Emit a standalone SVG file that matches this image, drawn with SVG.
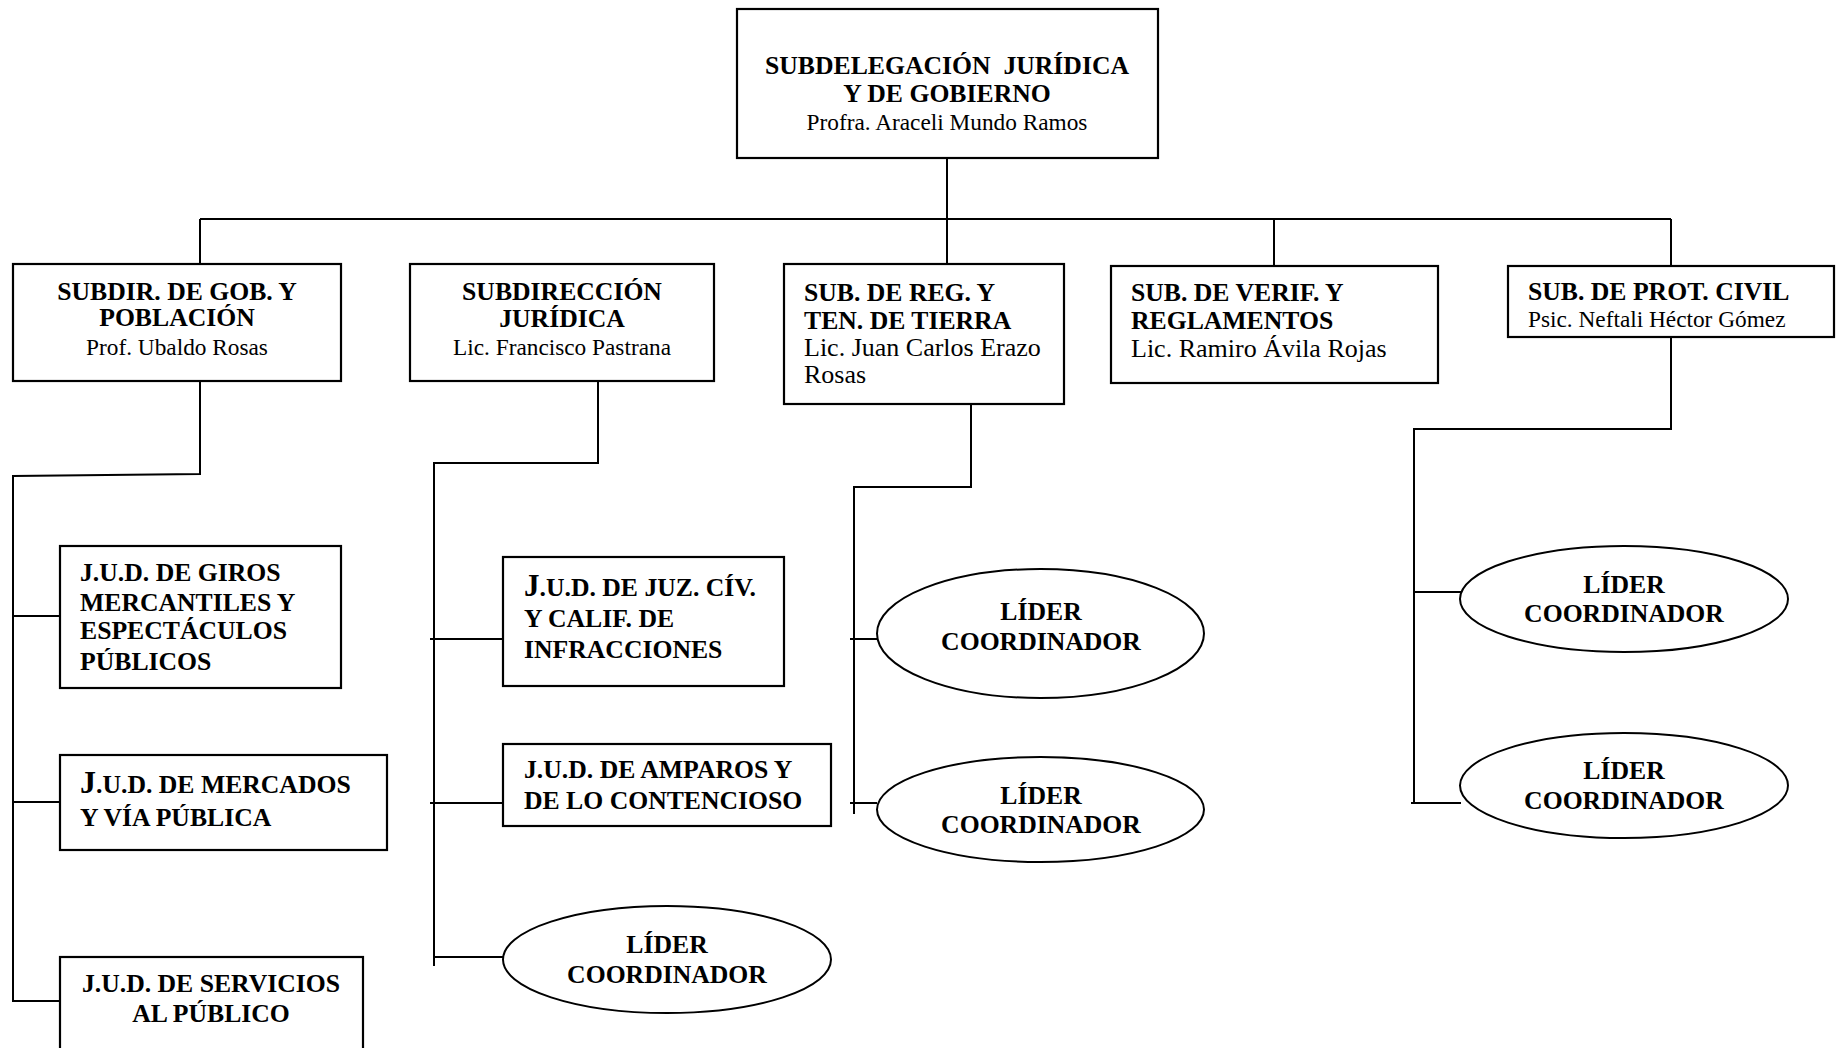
<svg xmlns="http://www.w3.org/2000/svg" width="1836" height="1048" viewBox="0 0 1836 1048">
<style>
.box{fill:#fff;stroke:#000;stroke-width:2.2}
.ell{fill:#fff;stroke:#000;stroke-width:2}
.ln{fill:none;stroke:#000;stroke-width:2}
text{font-family:"Liberation Serif","Times New Roman",serif;fill:#000}
.b{font-weight:bold;font-size:25.7px}
.r{font-size:23.3px}
.r2{font-size:26px}
.c{text-anchor:middle}
</style>
<rect width="1836" height="1048" fill="#fff"/>
<g id="connectors">
<path class="ln" d="M947 158 V264"/>
<path class="ln" d="M200 219 H1671"/>
<path class="ln" d="M200 219 V264"/>
<path class="ln" d="M1274 219 V266"/>
<path class="ln" d="M1671 219 V266"/>
<path class="ln" d="M200 381 V474 L13 476 V1001 H60"/>
<path class="ln" d="M13 616 H60"/>
<path class="ln" d="M13 802 H60"/>
<path class="ln" d="M598 381 V463 H434 V966"/>
<path class="ln" d="M430 639 H503"/>
<path class="ln" d="M430 803 H503"/>
<path class="ln" d="M434 957 H503"/>
<path class="ln" d="M971 404 V487 H854 V814"/>
<path class="ln" d="M850 639 H877"/>
<path class="ln" d="M850 803 H877"/>
<path class="ln" d="M1671 337 V429 H1414 V803"/>
<path class="ln" d="M1414 592 H1461"/>
<path class="ln" d="M1411 803 H1461"/>
</g>
<g id="n-subdelegacion">
<rect class="box" x="737" y="9" width="421" height="149"/>
<text class="b c" x="947" y="74">SUBDELEGACIÓN&#160; JURÍDICA</text>
<text class="b c" x="947" y="102">Y DE GOBIERNO</text>
<text class="r c" x="947" y="130">Profra. Araceli Mundo Ramos</text>
</g>
<g id="n-subdir-gob">
<rect class="box" x="13" y="264" width="328" height="117"/>
<text class="b c" x="177" y="300">SUBDIR. DE GOB. Y</text>
<text class="b c" x="177" y="326">POBLACIÓN</text>
<text class="r c" x="177" y="355">Prof. Ubaldo Rosas</text>
</g>
<g id="n-subdir-juridica">
<rect class="box" x="410" y="264" width="304" height="117"/>
<text class="b c" x="562" y="300">SUBDIRECCIÓN</text>
<text class="b c" x="562" y="327">JURÍDICA</text>
<text class="r c" x="562" y="355">Lic. Francisco Pastrana</text>
</g>
<g id="n-sub-reg">
<rect class="box" x="784" y="264" width="280" height="140"/>
<text class="b" x="804" y="301">SUB. DE REG. Y</text>
<text class="b" x="804" y="329">TEN. DE TIERRA</text>
<text class="r2" x="804" y="356">Lic. Juan Carlos Erazo</text>
<text class="r2" x="804" y="383">Rosas</text>
</g>
<g id="n-sub-verif">
<rect class="box" x="1111" y="266" width="327" height="117"/>
<text class="b" x="1131" y="301">SUB. DE VERIF. Y</text>
<text class="b" x="1131" y="329">REGLAMENTOS</text>
<text class="r2" x="1131" y="357">Lic. Ramiro Ávila Rojas</text>
</g>
<g id="n-sub-prot">
<rect class="box" x="1508" y="266" width="326" height="71"/>
<text class="b" x="1528" y="300">SUB. DE PROT. CIVIL</text>
<text class="r" x="1528" y="327">Psic. Neftali Héctor Gómez</text>
</g>
<g id="n-jud-giros">
<rect class="box" x="60" y="546" width="281" height="142"/>
<text class="b" x="80" y="581">J.U.D. DE GIROS</text>
<text class="b" x="80" y="611">MERCANTILES Y</text>
<text class="b" x="80" y="639">ESPECTÁCULOS</text>
<text class="b" x="80" y="670">PÚBLICOS</text>
</g>
<g id="n-jud-mercados">
<rect class="box" x="60" y="755" width="327" height="95"/>
<text class="b" x="80" y="793"><tspan font-size="32px">J</tspan>.U.D. DE MERCADOS</text>
<text class="b" x="80" y="826">Y VÍA PÚBLICA</text>
</g>
<g id="n-jud-servicios">
<rect class="box" x="60" y="957" width="303" height="100"/>
<text class="b c" x="211" y="992">J.U.D. DE SERVICIOS</text>
<text class="b c" x="211" y="1022">AL PÚBLICO</text>
</g>
<g id="n-jud-juz">
<rect class="box" x="503" y="557" width="281" height="129"/>
<text class="b" x="524" y="596"><tspan font-size="31px">J</tspan>.U.D. DE JUZ. CÍV.</text>
<text class="b" x="524" y="627">Y CALIF. DE</text>
<text class="b" x="524" y="658">INFRACCIONES</text>
</g>
<g id="n-jud-amparos">
<rect class="box" x="503" y="744" width="328" height="82"/>
<text class="b" x="524" y="778">J.U.D. DE AMPAROS Y</text>
<text class="b" x="524" y="809">DE LO CONTENCIOSO</text>
</g>
<g id="n-lider-juridica">
<ellipse class="ell" cx="667" cy="959.5" rx="164" ry="53.5"/>
<text class="b c" x="667" y="953">LÍDER</text>
<text class="b c" x="667" y="983">COORDINADOR</text>
</g>
<g id="n-lider-reg-1">
<ellipse class="ell" cx="1040.5" cy="633.5" rx="163.5" ry="64.5"/>
<text class="b c" x="1041" y="620">LÍDER</text>
<text class="b c" x="1041" y="650">COORDINADOR</text>
</g>
<g id="n-lider-reg-2">
<ellipse class="ell" cx="1040.5" cy="809.5" rx="163.5" ry="52.5"/>
<text class="b c" x="1041" y="804">LÍDER</text>
<text class="b c" x="1041" y="833">COORDINADOR</text>
</g>
<g id="n-lider-prot-1">
<ellipse class="ell" cx="1624" cy="599" rx="164" ry="53"/>
<text class="b c" x="1624" y="593">LÍDER</text>
<text class="b c" x="1624" y="622">COORDINADOR</text>
</g>
<g id="n-lider-prot-2">
<ellipse class="ell" cx="1624" cy="785.5" rx="164" ry="52.5"/>
<text class="b c" x="1624" y="779">LÍDER</text>
<text class="b c" x="1624" y="809">COORDINADOR</text>
</g>
</svg>
